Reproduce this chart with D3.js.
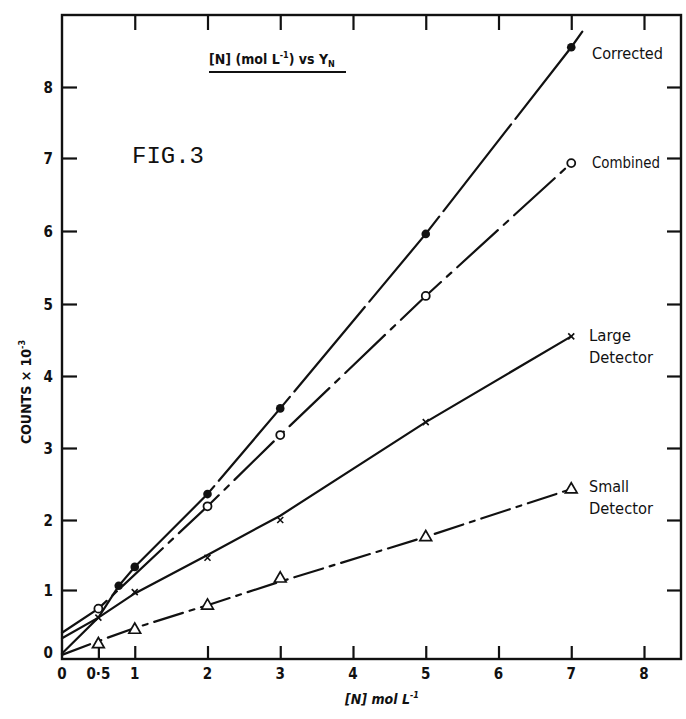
<!DOCTYPE html>
<html>
<head>
<meta charset="utf-8">
<script src="https://cdn.jsdelivr.net/npm/d3@7"></script>
<style>
  html, body { margin: 0; padding: 0; background: #fff; }
  svg { display: block; }
  text { fill: #111; }
</style>
</head>
<body>
<div id="chart"></div>
<script>
// ---------------- DATA ----------------
const xTickValues = [0.5, 1, 2, 3, 4, 5, 6, 7, 8];
const xLabelValues = [0, 0.5, 1, 2, 3, 4, 5, 6, 7, 8];
const xLabelTexts = ["0", "0·5", "1", "2", "3", "4", "5", "6", "7", "8"];
const yTickValues = [1, 2, 3, 4, 5, 6, 7, 8];
const yLabelValues = [0, 1, 2, 3, 4, 5, 6, 7, 8];
const topTickValues = [1, 2, 3, 4, 5, 6, 7, 8];

// Corrected (filled circles)
const correctedX = [0.78, 1, 2, 3, 5, 7];
const correctedY = [1.06, 1.33, 2.36, 3.55, 5.96, 8.56];
const correctedLineX = [0, 0.5, 0.78, 1, 2, 3, 5, 7, 7.2];
const correctedLineY = [0.08, 0.6, 1.06, 1.33, 2.36, 3.55, 5.96, 8.56, 8.85];

// Combined (open circles)
const combinedX = [0.5, 2, 3, 5, 7];
const combinedY = [0.73, 2.19, 3.18, 5.11, 6.93];
const combinedLineX = [0, 0.5, 2, 3, 5, 7];
const combinedLineY = [0.38, 0.73, 2.19, 3.18, 5.11, 6.93];

// Large detector (crosses)
const largeX = [0.5, 1, 2, 3, 5, 7];
const largeY = [0.6, 0.97, 1.46, 2.0, 3.36, 4.55];
const largeLineX = [0, 0.5, 1, 2, 3, 5, 7];
const largeLineY = [0.3, 0.6, 0.95, 1.5, 2.06, 3.36, 4.55];

// Small detector (open triangles)
const smallX = [0.5, 1, 2, 3, 5, 7];
const smallY = [0.22, 0.43, 0.78, 1.17, 1.76, 2.43];
const smallLineX = [0, 0.5, 1, 2, 3, 5, 7];
const smallLineY = [0.06, 0.26, 0.45, 0.78, 1.12, 1.76, 2.43];

const seriesNames = ["Corrected", "Combined", "Large", "Detector", "Small", "Detector"];

// ---------------- DRAW ----------------
const W = 686, H = 719;
const svg = d3.select("#chart").append("svg").attr("width", W).attr("height", H);

const x = d3.scaleLinear().domain([0, 8]).range([62, 644]);
const y = d3.scaleLinear()
  .domain([0, 1, 2, 3, 4, 5, 6, 7, 8])
  .range([659, 590, 520, 448, 376, 304, 231, 158, 87]);

const frame = { left: 62, right: 681, top: 15, bottom: 659 };
const FONT = "'DejaVu Sans Condensed', 'DejaVu Sans', sans-serif";

// Frame
svg.append("rect")
  .attr("x", frame.left).attr("y", frame.top)
  .attr("width", frame.right - frame.left).attr("height", frame.bottom - frame.top)
  .attr("fill", "none").attr("stroke", "#111").attr("stroke-width", 2.4);

// Axes (inward ticks)
const gx = svg.append("g").attr("transform", `translate(0,${frame.bottom})`)
  .call(d3.axisBottom(x).tickValues(xTickValues).tickSizeInner(-13).tickSizeOuter(0).tickFormat(""));
const gxt = svg.append("g").attr("transform", `translate(0,${frame.top})`)
  .call(d3.axisTop(x).tickValues(topTickValues).tickSizeInner(-15).tickSizeOuter(0).tickFormat(""));
const gy = svg.append("g").attr("transform", `translate(${frame.left},0)`)
  .call(d3.axisLeft(y).tickValues(yTickValues).tickSizeInner(-15).tickSizeOuter(0).tickFormat(""));
const gyr = svg.append("g").attr("transform", `translate(${frame.right},0)`)
  .call(d3.axisRight(y).tickValues(yTickValues).tickSizeInner(-14).tickSizeOuter(0).tickFormat(""));
[gx, gxt, gy, gyr].forEach(g => {
  g.select(".domain").remove();
  g.selectAll(".tick line").attr("stroke", "#111").attr("stroke-width", 2.2);
});

// Tick labels
svg.append("g").selectAll("text").data(xLabelValues).join("text")
  .attr("x", d => x(d)).attr("y", 679)
  .attr("text-anchor", "middle")
  .attr("font-family", FONT).attr("font-weight", "bold").attr("font-size", 15)
  .text((d, i) => xLabelTexts[i]);

svg.append("g").selectAll("text").data(yLabelValues).join("text")
  .attr("x", 53).attr("y", d => Math.min(y(d) + 6, 658))
  .attr("text-anchor", "end")
  .attr("font-family", FONT).attr("font-weight", "bold").attr("font-size", 15)
  .text(d => d);

// Axis titles
const xt = svg.append("text").attr("x", 345).attr("y", 704)
  .attr("font-family", FONT).attr("font-style", "italic").attr("font-weight", "bold").attr("font-size", 14);
xt.append("tspan").text("[N] mol L");
xt.append("tspan").attr("dy", -6).attr("font-size", 9).text("-1");

const yt = svg.append("text")
  .attr("transform", "translate(31,392) rotate(-90)")
  .attr("text-anchor", "middle")
  .attr("font-family", FONT).attr("font-weight", "bold").attr("font-size", 14);
yt.append("tspan").text("COUNTS × 10");
yt.append("tspan").attr("dy", -6).attr("font-size", 9).text("-3");

// Title with underline
const tt = svg.append("text").attr("x", 209).attr("y", 64)
  .attr("font-family", FONT).attr("font-weight", "bold").attr("font-size", 14);
tt.append("tspan").text("[N] (mol L");
tt.append("tspan").attr("dy", -6).attr("font-size", 9).text("-1");
tt.append("tspan").attr("dy", 6).text(") vs  Y");
tt.append("tspan").attr("dy", 3).attr("font-size", 9).text("N");
svg.append("line").attr("x1", 209).attr("x2", 346).attr("y1", 72).attr("y2", 72)
  .attr("stroke", "#111").attr("stroke-width", 2);

// FIG.3
svg.append("text").attr("x", 132).attr("y", 163)
  .attr("font-family", "'Liberation Mono', 'DejaVu Sans Mono', monospace")
  .attr("font-size", 24).text("FIG.3");

// Lines
const lineGen = d3.line().x(d => x(d[0])).y(d => y(d[1]));
function drawLine(xs, ys, dash) {
  svg.append("path")
    .datum(xs.map((v, i) => [v, ys[i]]))
    .attr("d", lineGen)
    .attr("fill", "none").attr("stroke", "#111").attr("stroke-width", 2.2)
    .attr("stroke-linecap", "round")
    .attr("stroke-dasharray", dash);
}
drawLine(correctedLineX, correctedLineY, "110,7");
drawLine(combinedLineX, combinedLineY, "55,8,6,8");
drawLine(largeLineX, largeLineY, null);
drawLine(smallLineX, smallLineY, "30,7,5,7");

// Markers
function pts(xs, ys) { return xs.map((v, i) => [v, ys[i]]); }
svg.append("g").selectAll("circle").data(pts(correctedX, correctedY)).join("circle")
  .attr("cx", d => x(d[0])).attr("cy", d => y(d[1])).attr("r", 4.3).attr("fill", "#111");
svg.append("g").selectAll("circle").data(pts(combinedX, combinedY)).join("circle")
  .attr("cx", d => x(d[0])).attr("cy", d => y(d[1])).attr("r", 4)
  .attr("fill", "#fff").attr("stroke", "#111").attr("stroke-width", 1.8);
svg.append("g").selectAll("path").data(pts(largeX, largeY)).join("path")
  .attr("d", d => {
    const cx = x(d[0]), cy = y(d[1]), s = 3;
    return `M${cx - s},${cy - s}L${cx + s},${cy + s}M${cx - s},${cy + s}L${cx + s},${cy - s}`;
  })
  .attr("stroke", "#111").attr("stroke-width", 1.6).attr("fill", "none");
const tri = d3.symbol().type(d3.symbolTriangle).size(60);
svg.append("g").selectAll("path").data(pts(smallX, smallY)).join("path")
  .attr("transform", d => `translate(${x(d[0])},${y(d[1]) + 0.5})`)
  .attr("d", tri)
  .attr("fill", "#fff").attr("stroke", "#111").attr("stroke-width", 1.7);

// Series labels
const labelPos = [
  [592, 59, 71], [592, 168, 68], [589, 341, 42], [589, 363, 64], [589, 492, 40], [589, 514, 64]
];
svg.append("g").selectAll("text").data(seriesNames).join("text")
  .attr("x", (d, i) => labelPos[i][0]).attr("y", (d, i) => labelPos[i][1])
  .attr("textLength", (d, i) => labelPos[i][2]).attr("lengthAdjust", "spacingAndGlyphs")
  .attr("font-family", FONT).attr("font-size", 16)
  .text(d => d);
</script>
</body>
</html>
